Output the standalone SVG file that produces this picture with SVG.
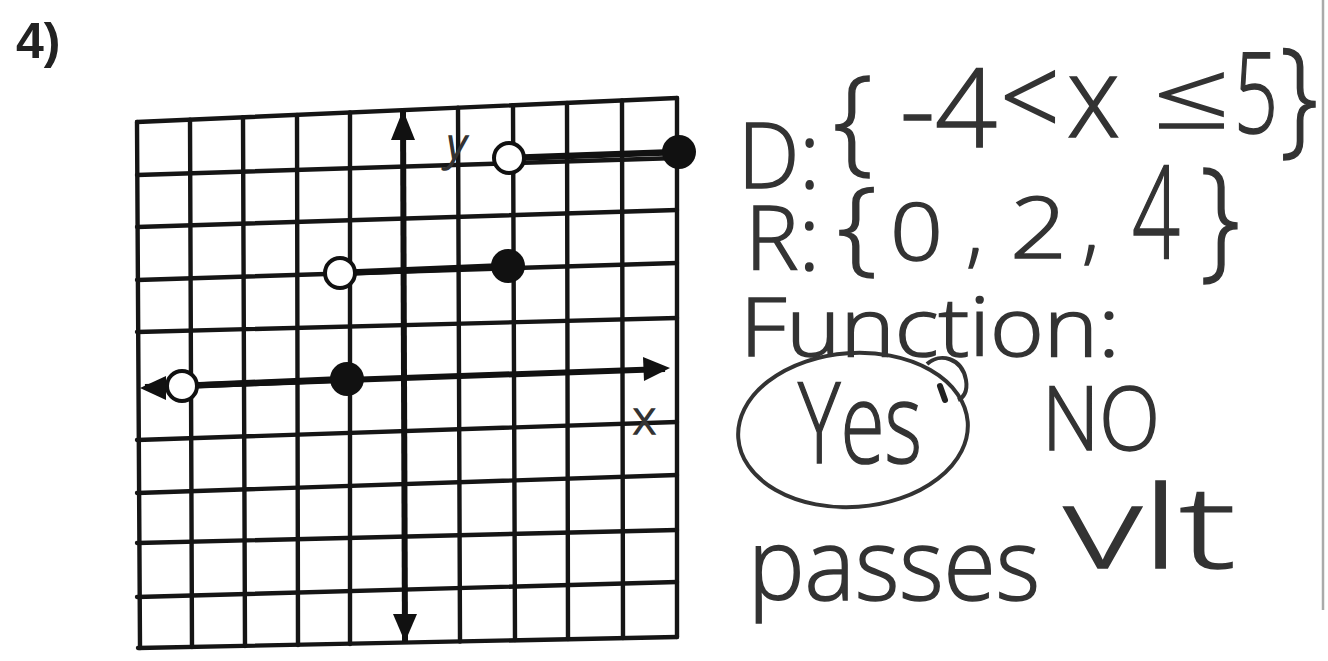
<svg xmlns="http://www.w3.org/2000/svg" width="1328" height="661" viewBox="0 0 1328 661">
<style>
.grid{stroke:#151515;stroke-width:4.4;fill:none;stroke-linecap:round}
.axis{stroke:#111;stroke-width:6;fill:none}
.seg{stroke:#111;stroke-width:6.5;fill:none}
.open{fill:#fff;stroke:#111;stroke-width:4}
.dot{fill:#111}
.arrow{fill:#111}
.hw{font-family:"Open Sans","DejaVu Sans",sans-serif;font-weight:300;fill:#333;stroke:#333;stroke-width:1.6}
.lbl{font-family:"Liberation Sans",sans-serif;font-weight:bold;fill:#222}
</style>
<rect width="1328" height="661" fill="#fff"/>
<g id="problem-number"><text class="lbl" x="16" y="58" font-size="50">4)</text></g>
<line x1="1323" y1="0" x2="1323" y2="610" stroke="#aaa" stroke-width="2.5"/>
<g id="grid" class="grid">
<path d="M137 122L677 98M137 175L677 158M137 227L677 210M137 280L677 263M137 332L677 318M137 440L677 422M137 493L677 475M137 543L677 530M137 597L677 582M138 648L677 637"/>
<path d="M137 122L140 648M190 119.6L192 647M243 117.3L245 646M297 115L298 645M350 112.5L350 644M458 107.7L460 641.5M513 105.3L515 640M567 103L568 639M622 100.4L623 638M677 98L677 637"/>
</g>
<g id="axes">
<path class="axis" d="M403 110L405 642"/>
<path class="axis" d="M145 387L665 369"/>
<polygon class="arrow" points="403,110 391,140 415,140"/>
<polygon class="arrow" points="405,642 393,614 417,614"/>
<polygon class="arrow" points="140,388 166,376 166,400"/>
<polygon class="arrow" points="670,368 643,357 644,381"/>
<text class="hw" x="447" y="160" font-size="44" font-style="italic">y</text>
<text class="hw" x="633" y="434" font-size="46">x</text>
</g>
<g id="connectors">
<path class="seg" d="M182 386L347 379"/>
<path class="seg" d="M340 273L508 266"/>
<path class="seg" d="M509 158L679 152"/>
</g>
<g id="points">
<circle class="open" cx="182" cy="386" r="15"/>
<circle class="dot" cx="347" cy="379" r="17"/>
<circle class="open" cx="340" cy="273" r="15"/>
<circle class="dot" cx="508" cy="266" r="17"/>
<circle class="open" cx="509" cy="158" r="15"/>
<circle class="dot" cx="679" cy="152" r="17"/>
</g>
<g id="domain" class="hw">
<text x="738" y="188" font-size="90" textLength="82" lengthAdjust="spacingAndGlyphs">D:</text>
<text x="833" y="160" font-size="116" textLength="40" lengthAdjust="spacingAndGlyphs">{</text>
<text x="900" y="147" font-size="108" textLength="97" lengthAdjust="spacingAndGlyphs">-4</text>
<text x="1000" y="137" font-size="110" textLength="60" lengthAdjust="spacingAndGlyphs">&lt;</text>
<text x="1067" y="137" font-size="112" textLength="53" lengthAdjust="spacingAndGlyphs">x</text>
<text x="1153" y="128" font-size="92" textLength="77" lengthAdjust="spacingAndGlyphs">≤</text>
<text x="1234" y="133" font-size="112" textLength="44" lengthAdjust="spacingAndGlyphs">5</text>
<text x="1280" y="140" font-size="128" textLength="38" lengthAdjust="spacingAndGlyphs">}</text>
</g>
<g id="range" class="hw">
<text x="745" y="270" font-size="88" textLength="75" lengthAdjust="spacingAndGlyphs">R:</text>
<text x="837" y="262" font-size="104" textLength="40" lengthAdjust="spacingAndGlyphs">{</text>
<text x="890" y="260" font-size="80" textLength="53" lengthAdjust="spacingAndGlyphs">0</text>
<text x="966" y="258" font-size="80">,</text>
<text x="1010" y="258" font-size="85" textLength="57" lengthAdjust="spacingAndGlyphs">2</text>
<text x="1082" y="255" font-size="80">,</text>
<text x="1132" y="259" font-size="130" textLength="48" lengthAdjust="spacingAndGlyphs">4</text>
<text x="1200" y="263" font-size="132" textLength="40" lengthAdjust="spacingAndGlyphs">}</text>
</g>
<g id="function" class="hw">
<text x="740" y="356" font-size="82" textLength="380" lengthAdjust="spacingAndGlyphs">Function:</text>
</g>
<g id="yes">
<ellipse cx="853" cy="430" rx="115" ry="77" transform="rotate(-4 853 430)" fill="none" stroke="#333" stroke-width="4"/>
<path d="M927 364C940 352 962 358 966 380C968 392 963 398 958 400" fill="none" stroke="#333" stroke-width="4"/>
<path d="M940 386L945 400" fill="none" stroke="#222" stroke-width="6" stroke-linecap="round"/>
<text class="hw" x="798" y="463" font-size="112" textLength="124" lengthAdjust="spacingAndGlyphs">Yes</text>
</g>
<g id="no"><text class="hw" x="1042" y="450" font-size="88" textLength="118" lengthAdjust="spacingAndGlyphs">NO</text></g>
<g id="reason" class="hw">
<text x="748" y="600" font-size="100" textLength="292" lengthAdjust="spacingAndGlyphs">passes</text>
<text x="1064" y="568" font-size="115" textLength="172" lengthAdjust="spacingAndGlyphs">vlt</text>
</g>
</svg>
